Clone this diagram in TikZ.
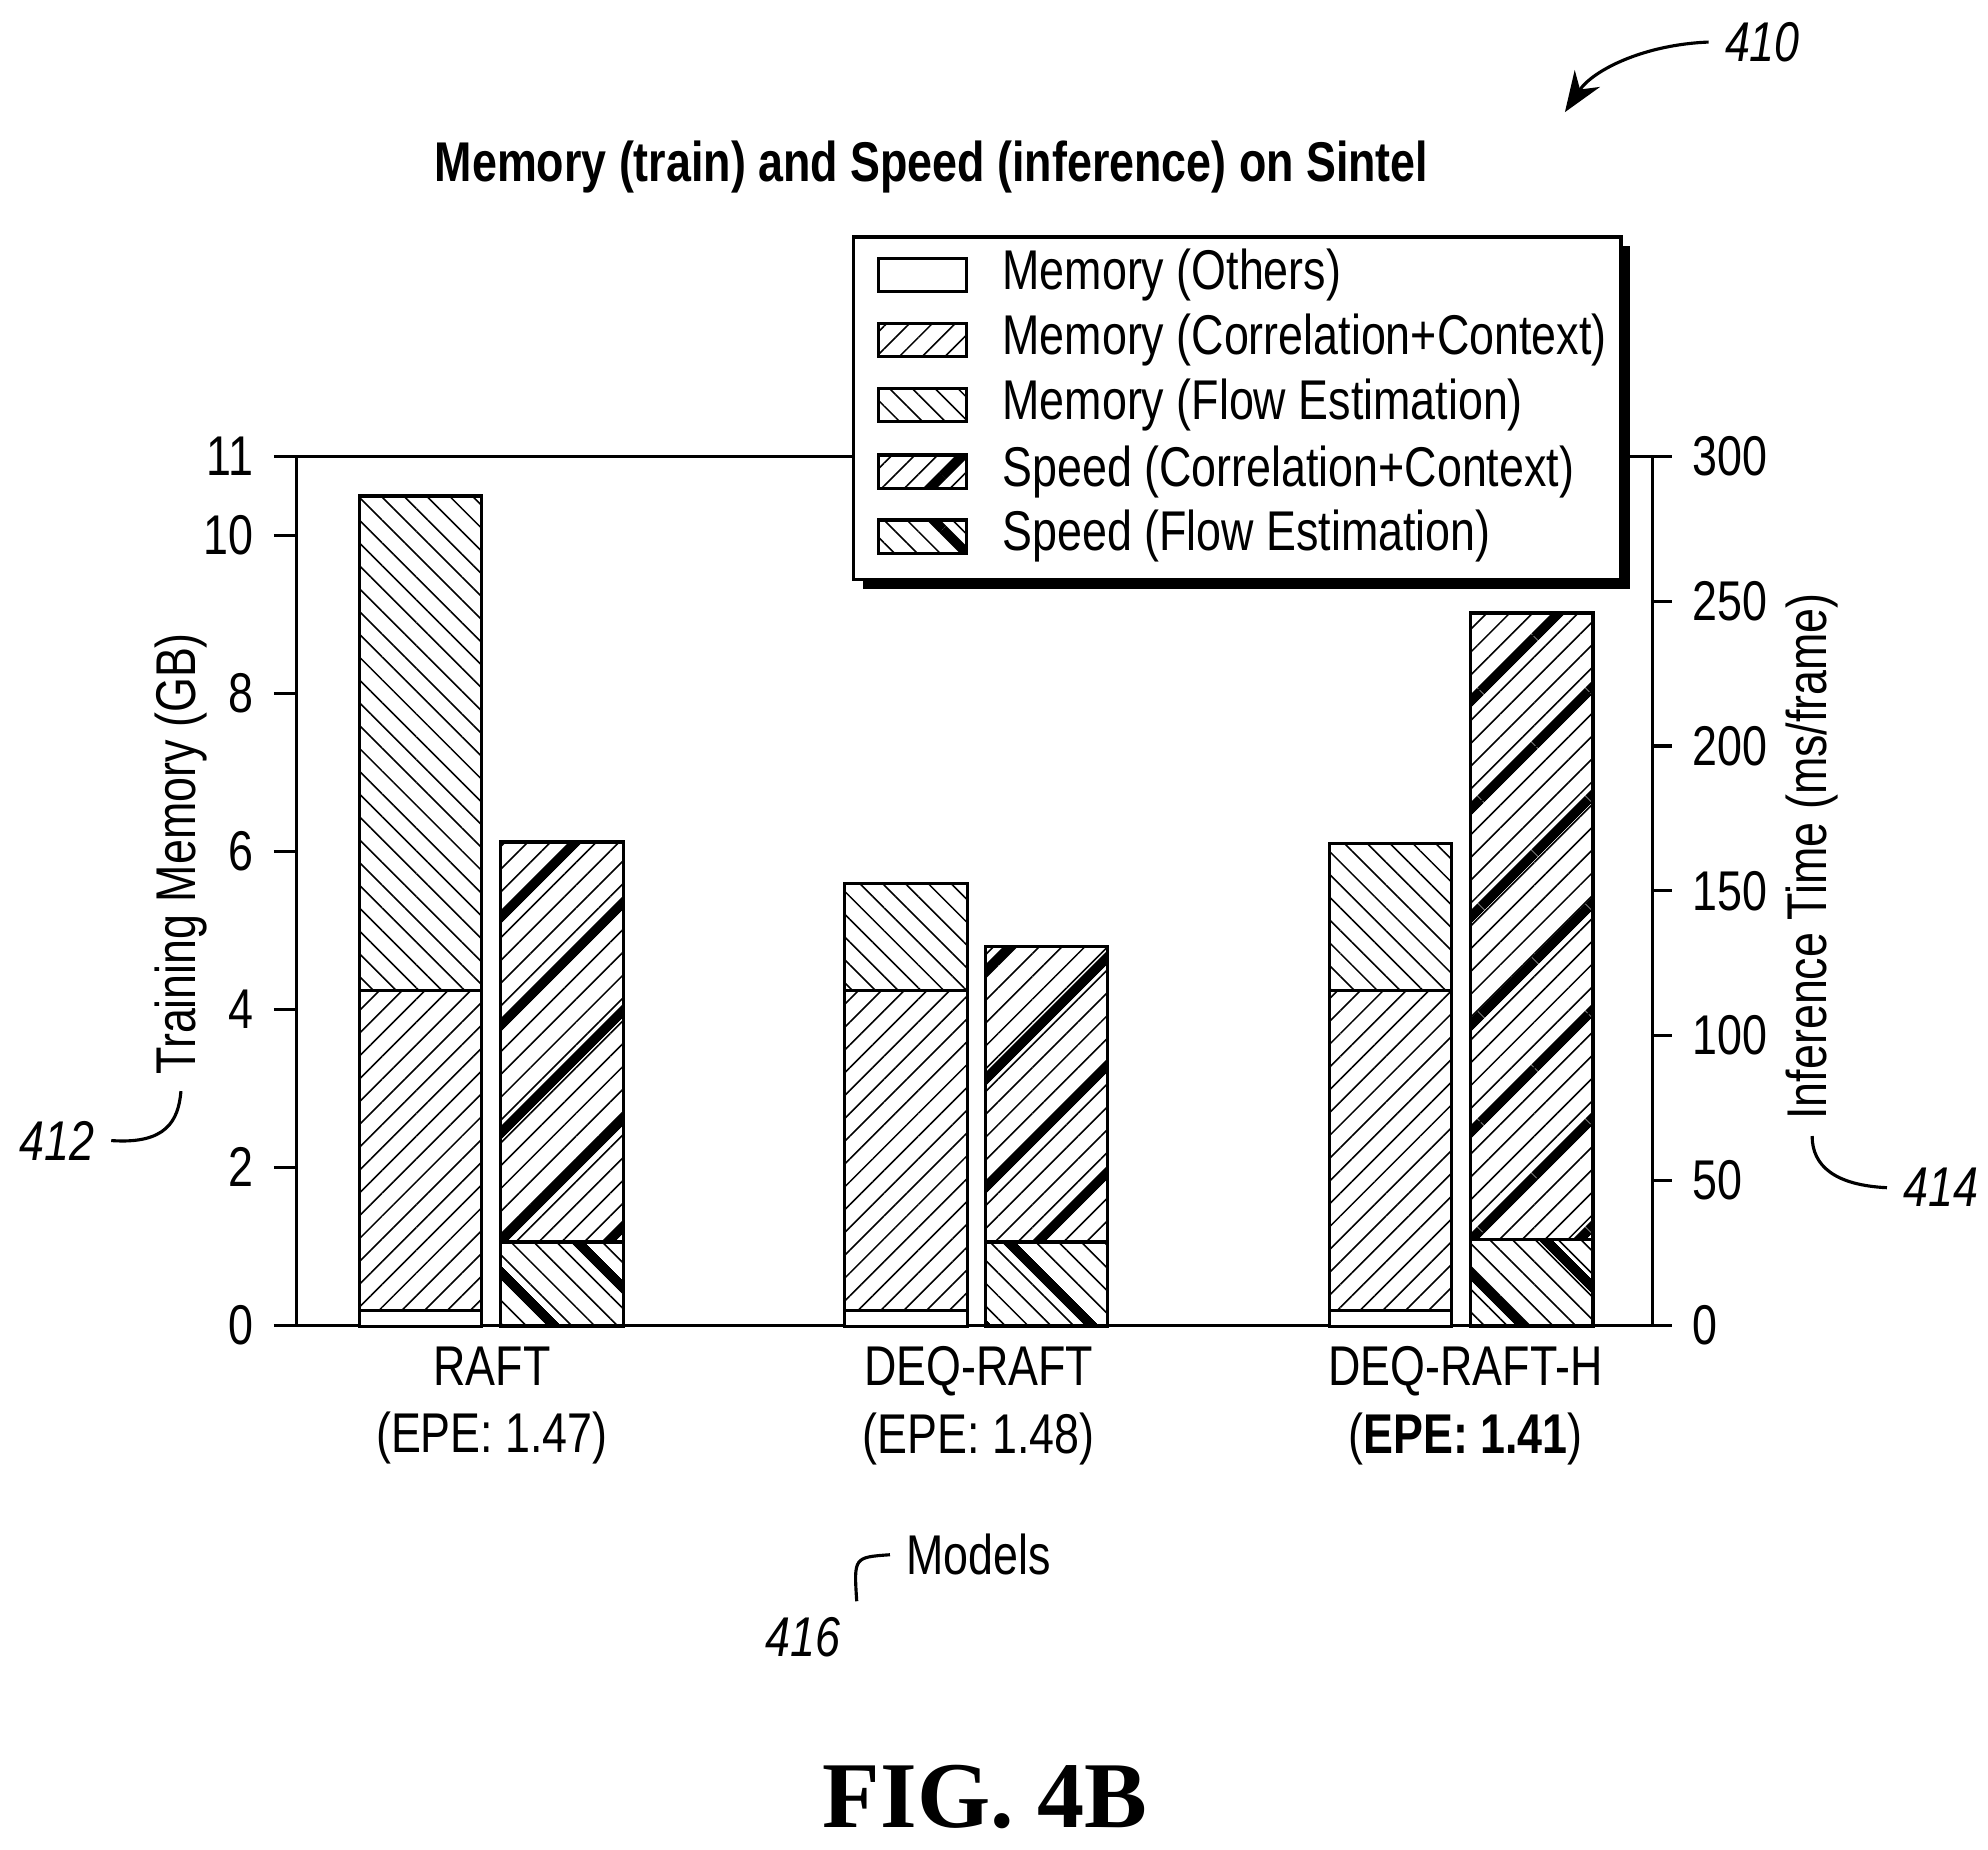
\documentclass[tikz,border=0pt]{standalone}
\usepackage{fontspec}
\setmainfont[FakeStretch=0.8]{Liberation Sans}
\newfontfamily\figfont{Liberation Serif}
\usetikzlibrary{patterns.meta, positioning, arrows.meta}
\tikzset{
  memothers/.style={draw, fill=white},
  memcorr/.style={draw, pattern={Lines[angle=45,distance=3.6pt,line width=0.35pt]}},
  memflow/.style={draw, pattern={Lines[angle=-45,distance=3.6pt,line width=0.35pt]}},
  spdcorr/.style={draw, preaction={pattern={Lines[angle=45,distance=3.6pt,line width=0.35pt]}},
    pattern={Lines[angle=45,distance=17pt,line width=2.2pt]}},
  spdflow/.style={draw, preaction={pattern={Lines[angle=-45,distance=3.6pt,line width=0.35pt]}},
    pattern={Lines[angle=-45,distance=17pt,line width=2.2pt]}},
  swatch/.style={minimum width=0.69cm, minimum height=0.26cm, inner sep=0pt},
  lbl/.style={font=\fontsize{12.5}{15}\selectfont},
  refnum/.style={font=\fontsize{12.5}{15}\selectfont\itshape},
}
\begin{document}
\begin{tikzpicture}[x=0.01cm, y=-0.01cm, line width=0.7pt]
\useasboundingbox (0,0) rectangle (1560,1451);
% title
\node[font=\fontsize{12.5}{15}\selectfont\bfseries] (title) at (731,131) {Memory (train) and Speed (inference) on Sintel};
% frame
\draw (233,358) -- (1297,358);
\draw (233,1040) -- (1297,1040);
\draw (233,358) -- (233,1040);
\draw (1297,358) -- (1297,1040);
% left ticks
\foreach \v in {0,2,4,6,8,10,11}
  \draw (215,{1040-\v*62}) -- (233,{1040-\v*62}) node[lbl, pos=0, left=1pt] {\v};
% right ticks
\foreach \v in {0,50,...,300}
  \draw (1297,{1040-\v*2.273}) -- (1312,{1040-\v*2.273}) node[lbl, pos=1, right=1pt] {\v};
% bars, memory
\begin{scope}[yshift=-10.40cm, y=0.62cm]
  \foreach \xa/\top in {282/10.5, 663/5.6, 1043/6.1} {
    \draw[memothers] (\xa,0) rectangle ({\xa+96},0.2);
    \draw[memcorr] (\xa,0.2) rectangle ({\xa+96},4.25);
    \draw[memflow] (\xa,4.25) rectangle ({\xa+96},\top);
  }
\end{scope}
% bars, speed
\begin{scope}[yshift=-10.40cm, y=0.02273cm]
  \foreach \xa/\fl/\top in {393/29/167, 773/29/131, 1154/30/246} {
    \draw[spdflow] (\xa,0) rectangle ({\xa+96},\fl);
    \draw[spdcorr] (\xa,\fl) rectangle ({\xa+96},\top);
  }
\end{scope}
% legend
\fill (677,193) rectangle (1279,462);
\draw[fill=white] (670,186) rectangle (1272,455);
\node[swatch, memothers] (s1) at (724,216) {};
\node[swatch, memcorr] (s2) at (724,267) {};
\node[swatch, memflow] (s3) at (724,318) {};
\node[swatch, spdcorr] (s4) at (724,370) {};
\node[swatch, spdflow] (s5) at (724,421) {};
\node[lbl, right=0.14cm of s1] {Memory (Others)};
\node[lbl, right=0.14cm of s2] {Memory (Correlation+Context)};
\node[lbl, right=0.14cm of s3] {Memory (Flow Estimation)};
\node[lbl, right=0.14cm of s4] {Speed (Correlation+Context)};
\node[lbl, right=0.14cm of s5] {Speed (Flow Estimation)};
% axis labels
\node[lbl, rotate=90] (ylab) at (142,670) {Training Memory (GB)};
\node[lbl, rotate=90] (y2lab) at (1422,672) {Inference Time (ms/frame)};
% categories
\node[lbl, align=center] (c1) at (386,1103) {RAFT\\(EPE: 1.47)};
\node[lbl, align=center] (c2) at (768,1103) {DEQ-RAFT\\(EPE: 1.48)};
\node[lbl, align=center] (c3) at (1150,1103) {DEQ-RAFT-H\\(\textbf{EPE: 1.41})};
\node[lbl] (xlab) at (768,1220) {Models};
% reference numerals
\node[refnum] (n410) at (1383,33) {410};
\node[refnum] (n412) at (45,895) {412};
\node[refnum] (n414) at (1523,932) {414};
\node[refnum] (n416) at (630,1285) {416};
\draw[-{Stealth[length=9pt]}] (n410.west) .. controls (1290,35) and (1250,55) .. (1228,88);
\draw (n412.east) .. controls (130,898) and (140,880) .. (ylab.west);
\draw (n414.west) .. controls (1440,930) and (1422,915) .. (y2lab.west);
\draw (n416.north east) .. controls (670,1222) .. (xlab.west);
\node[font=\figfont\fontsize{21}{25}\selectfont\bfseries] (fig) at (773,1410) {FIG. 4B};
\end{tikzpicture}
\end{document}
